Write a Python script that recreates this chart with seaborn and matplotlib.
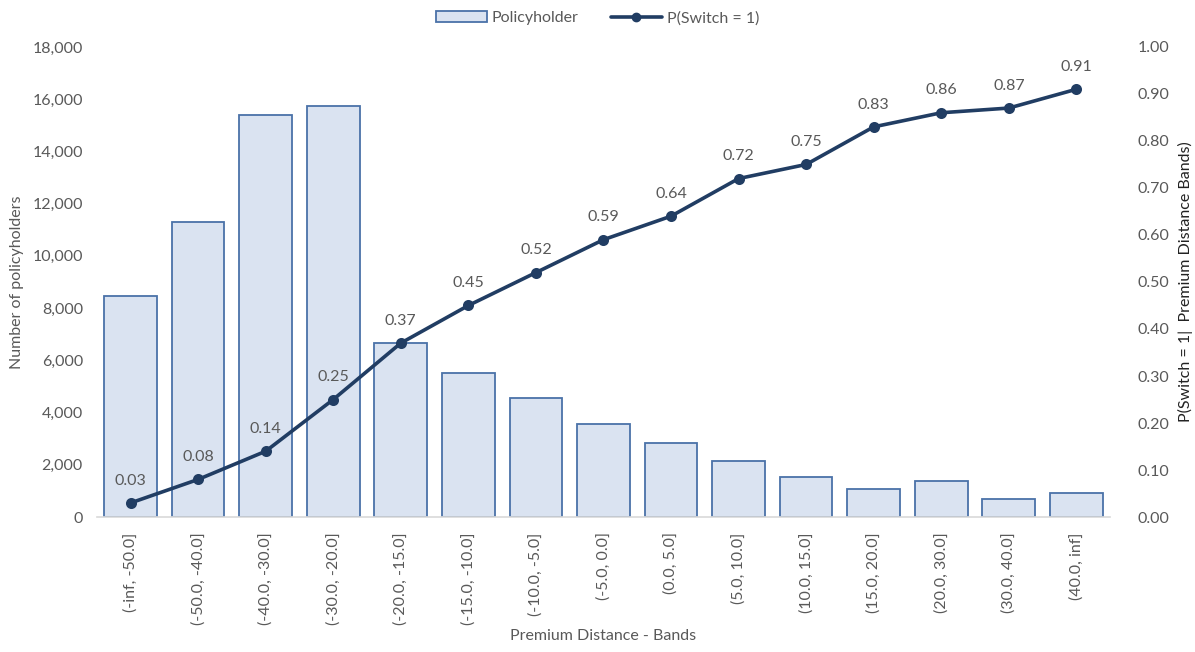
import matplotlib
matplotlib.use("Agg")
import matplotlib.pyplot as plt
from matplotlib.patches import Patch
from matplotlib.lines import Line2D
from matplotlib.ticker import FuncFormatter, MultipleLocator
import seaborn as sns
import pandas as pd

bands = ["(-inf, -50.0]", "(-50.0, -40.0]", "(-40.0, -30.0]", "(-30.0, -20.0]",
         "(-20.0, -15.0]", "(-15.0, -10.0]", "(-10.0, -5.0]", "(-5.0, 0.0]",
         "(0.0, 5.0]", "(5.0, 10.0]", "(10.0, 15.0]", "(15.0, 20.0]",
         "(20.0, 30.0]", "(30.0, 40.0]", "(40.0, inf]"]
policyholders = [8450, 11300, 15400, 15750, 6670, 5520, 4560, 3560,
                 2830, 2150, 1530, 1070, 1380, 690, 920]
p_switch = [0.03, 0.08, 0.14, 0.25, 0.37, 0.45, 0.52, 0.59,
            0.64, 0.72, 0.75, 0.83, 0.86, 0.87, 0.91]

df = pd.DataFrame({"band": bands, "count": policyholders, "p": p_switch})

sns.set_theme(style="white")
plt.rcParams["font.family"] = ["Lato", "DejaVu Sans"]

TEXT = "#595959"
BAR_FACE = "#dae3f1"
BAR_EDGE = "#4a72a8"
LINE = "#213d63"
FS = 11.5

fig = plt.figure(figsize=(11.95, 6.52), dpi=100)
ax = fig.add_axes([0.081, 0.207, 0.848, 0.721])

sns.barplot(data=df, x="band", y="count", ax=ax, color=BAR_FACE,
            edgecolor=BAR_EDGE, linewidth=1.3, width=0.78, saturation=1)
ax.set_ylim(0, 18000)
ax.yaxis.set_major_locator(MultipleLocator(2000))
ax.yaxis.set_major_formatter(FuncFormatter(lambda v, _: f"{int(v):,}"))
ax.set_xlim(-0.5, len(bands) - 0.5)

ax2 = ax.twinx()
sns.pointplot(data=df, x="band", y="p", ax=ax2, color=LINE,
              markers="o", linestyles="-", markersize=6, linewidth=2.6)
ax2.set_ylim(0, 1.0)
ax2.yaxis.set_major_locator(MultipleLocator(0.1))
ax2.yaxis.set_major_formatter(FuncFormatter(lambda v, _: f"{v:.2f}"))
ax2.set_xlim(-0.5, len(bands) - 0.5)

for i, v in enumerate(p_switch):
    ax2.annotate(f"{v:.2f}", (i, v), xytext=(0, 11), textcoords="offset points",
                 ha="center", va="bottom", fontsize=FS, color=TEXT)

for a in (ax, ax2):
    for s in a.spines.values():
        s.set_visible(False)
    a.tick_params(axis="both", length=0, colors=TEXT, labelsize=FS)
    a.grid(False)
ax.spines["bottom"].set_visible(True)
ax.spines["bottom"].set_color("#d9d9d9")
ax.spines["bottom"].set_linewidth(1.2)

ax.set_xticks(range(len(bands)))
ax.set_xticklabels(bands, rotation=90, fontsize=FS, color=TEXT)
ax.tick_params(axis="x", pad=11)
ax.tick_params(axis="y", pad=10)
ax2.tick_params(axis="y", pad=20)

ax.set_xlabel("Premium Distance - Bands", fontsize=FS, color=TEXT, labelpad=3)
ax.set_ylabel("Number of policyholders", fontsize=FS, color=TEXT, labelpad=6)
ax2.set_ylabel("P(Switch = 1|  Premium Distance Bands)", fontsize=FS,
               color="#222222", labelpad=6)

handles = [Patch(facecolor=BAR_FACE, edgecolor=BAR_EDGE, linewidth=1.3),
           Line2D([], [], color=LINE, lw=2.6, marker="o", markersize=6)]
fig.legend(handles, ["Policyholder", "P(Switch = 1)"], loc="upper center",
           bbox_to_anchor=(0.5, 1.005), ncol=2, frameon=False, fontsize=FS,
           labelcolor=TEXT, handlelength=3.2, handletextpad=0.3, columnspacing=2.0)

fig.savefig("out.png", dpi=100, facecolor="white")
